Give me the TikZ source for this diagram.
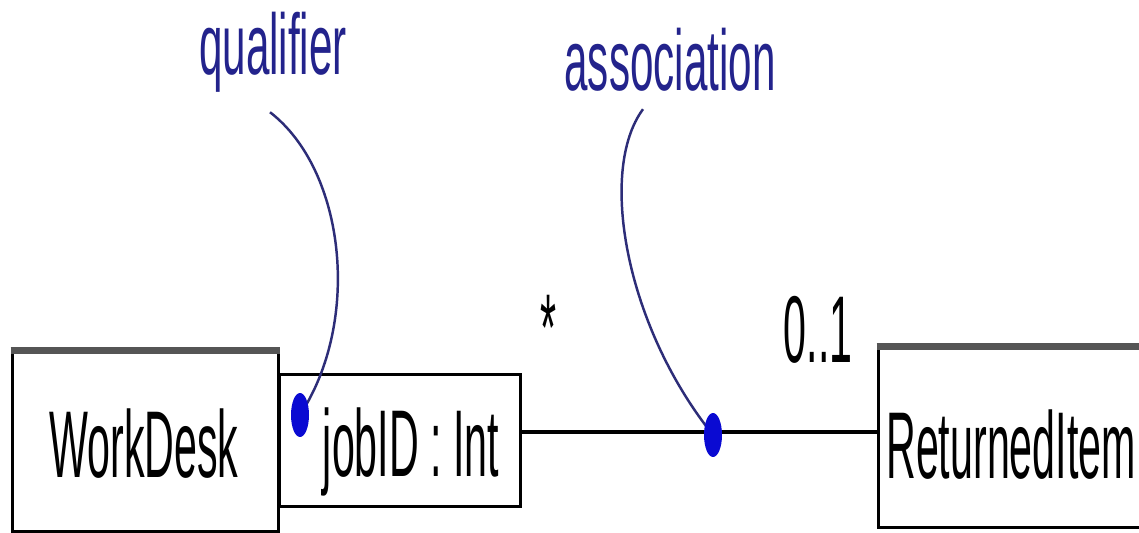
\documentclass[tikz,border=0pt]{standalone}
\usepackage{fontspec}
\usetikzlibrary{shapes.geometric}
\newfontfamily\mainf[FakeStretch=0.434]{Liberation Sans}
\newfontfamily\labf[FakeStretch=0.49]{Liberation Sans}
\definecolor{navy}{RGB}{35,35,140}
\definecolor{curvenavy}{RGB}{45,45,120}
\definecolor{dotblue}{RGB}{10,10,210}
\definecolor{topgray}{RGB}{85,85,85}
\tikzset{
  box/.style={draw=black, line width=1.7pt, rectangle, inner sep=0pt},
  txt/.style={font=\mainf\fontsize{54}{60}\selectfont, inner sep=0pt, text=black},
  lab/.style={font=\labf\fontsize{49}{54}\selectfont, text=navy, inner sep=0pt},
  dotn/.style={ellipse, fill=dotblue, draw=none, minimum width=0.36cm, minimum height=0.88cm, inner sep=0pt},
  callout/.style={draw=curvenavy, line width=1.4pt},
  assoc/.style={draw=black, line width=2pt},
  topbar/.style={draw=topgray, line width=4pt}
}
\begin{document}
\begin{tikzpicture}[x=0.02cm,y=-0.02cm]
\clip (0,0) rectangle (1139,533);
\fill[white] (0,0) rectangle (1139,533);
% classes
\node[box, minimum width=5.34cm, minimum height=3.6cm] (wd) at (145.5,442) {};
\draw[topbar] (wd.north west) -- (wd.north east);
\node[txt, anchor=base] (wdt) at (144,477) {WorkDesk};
\node[box, minimum width=4.84cm, minimum height=2.66cm] (q) at (400,440.5) {};
\node[txt, anchor=base] (qt) at (411,476) {jobID : Int};
\node[box, minimum width=5.64cm, minimum height=3.6cm] (ri) at (1019,438) {};
\draw[topbar] (ri.north west) -- (ri.north east);
\node[txt, anchor=base west] (rit) at (886,478) {ReturnedItem};
% association
\coordinate (p2) at (713,432);
\draw[assoc] (q.east |- p2) -- (ri.west |- p2);
\node[txt, anchor=base] (m1) at (549,360) {*};
\node[txt, anchor=base] (m2) at (818,362) {0..1};
% notes
\node[lab, anchor=base] (ql) at (273,75) {qualifier};
\node[lab, anchor=base] (al) at (670,91) {association};
\coordinate (qs) at ([shift={(-3,19)}]ql.south);
\coordinate (as) at ([shift={(-27,17)}]al.south);
\coordinate (p1) at (300,415);
\coordinate (p2d) at (713,435);
\draw[callout] (qs) .. controls (345,170) and (362,320) .. (p1);
\draw[callout] (as) .. controls (598,170) and (625,325) .. (p2d);
\node[dotn] (d1) at (p1) {};
\node[dotn] (d2) at (p2d) {};
\end{tikzpicture}
\end{document}
